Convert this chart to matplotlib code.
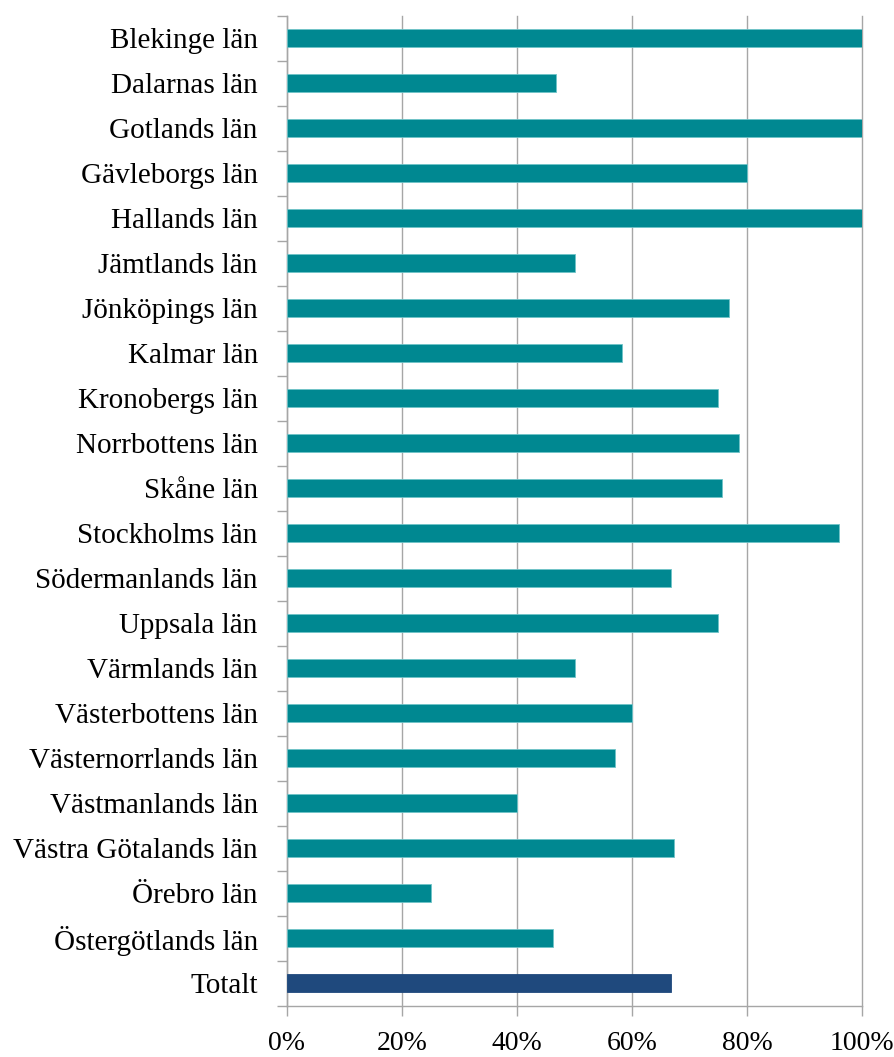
import matplotlib
matplotlib.use("Agg")
import matplotlib.pyplot as plt
import numpy as np
from matplotlib.ticker import FuncFormatter, FixedLocator

categories = ["Blekinge län", "Dalarnas län", "Gotlands län", "Gävleborgs län",
              "Hallands län", "Jämtlands län", "Jönköpings län", "Kalmar län",
              "Kronobergs län", "Norrbottens län", "Skåne län", "Stockholms län",
              "Södermanlands län", "Uppsala län", "Värmlands län",
              "Västerbottens län", "Västernorrlands län", "Västmanlands län",
              "Västra Götalands län", "Örebro län", "Östergötlands län", "Totalt"]
values = [100, 46.7, 100, 80, 100, 50, 76.9, 58.3, 75, 78.6, 75.6, 96.0,
          66.7, 75, 50, 60, 57.1, 40, 67.3, 25, 46.2, 66.8]
x_ticks = [0, 20, 40, 60, 80, 100]

teal = "#008891"
navy = "#1F497D"
grid_c = "#A6A6A6"

plt.rcParams['font.family'] = ['Liberation Serif', 'DejaVu Serif']

fig = plt.figure(figsize=(8.95, 10.57), dpi=100)
ax = fig.add_axes([287/895, 1 - 1005.5/1057, 575/895, 990/1057])

n = len(categories)
ypos = np.arange(n)
colors = [teal] * (n - 1) + [navy]
ax.barh(ypos, values, height=0.4, color=colors, edgecolor=["#6FC3C8"] * (n - 1) + [navy],
        linewidth=0.6, zorder=3)

ax.set_ylim(n - 0.5, -0.5)
ax.set_xlim(0, 100)
ax.set_yticks(ypos)
ax.set_yticklabels(categories)
ax.yaxis.set_minor_locator(FixedLocator(np.arange(-0.5, n, 1.0)))
ax.tick_params(axis='y', which='major', length=0, pad=21, labelsize=21)
ax.tick_params(axis='y', which='minor', length=7, width=1, color=grid_c, direction='out')
ax.set_xticks(x_ticks)
ax.xaxis.set_major_formatter(FuncFormatter(lambda v, p: f"{int(v)}%"))
ax.tick_params(axis='x', which='major', length=7, width=1, color=grid_c, pad=11, labelsize=20)

ax.grid(axis='x', color=grid_c, linewidth=1, zorder=0)
for gl in ax.get_xgridlines():
    gl.set_clip_on(False)
ax.set_axisbelow(True)
for s in ['top', 'right']:
    ax.spines[s].set_visible(False)
for s in ['left', 'bottom']:
    ax.spines[s].set_color(grid_c)
    ax.spines[s].set_linewidth(1)

fig.savefig("out.png", dpi=100)
